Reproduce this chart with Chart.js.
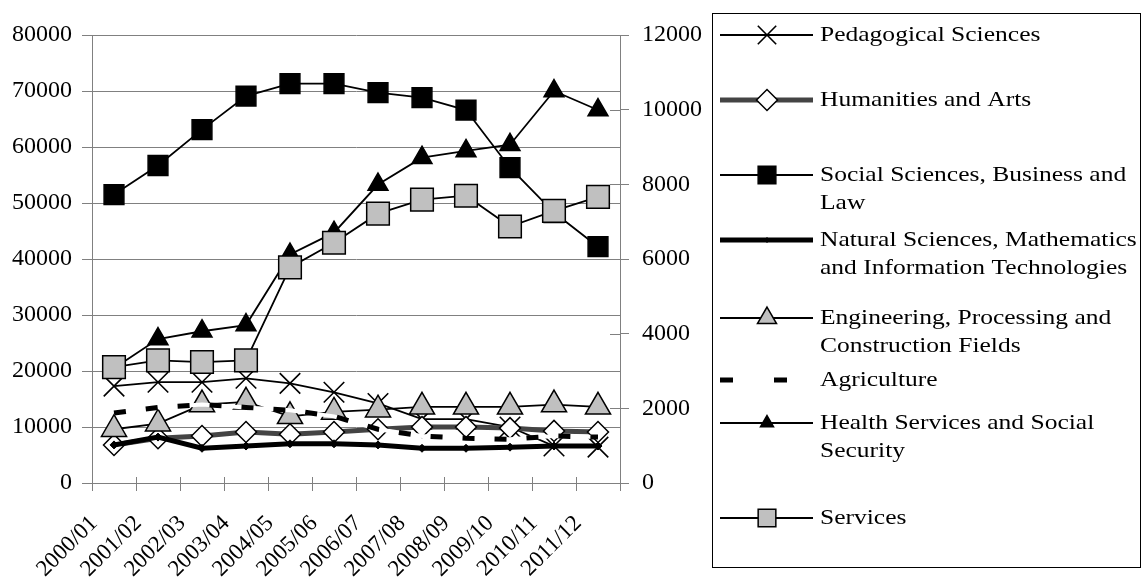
<!DOCTYPE html>
<html>
<head>
<meta charset="utf-8">
<script src="https://cdn.jsdelivr.net/npm/chart.js@4.4.1/dist/chart.umd.min.js"></script>
<style>
html,body{margin:0;padding:0;background:#fff;}
#wrap{width:1143px;height:579px;position:relative;}
</style>
</head>
<body>
<div id="wrap"><canvas id="c" width="1143" height="579"></canvas></div>
<script>
// ---------- DATA ----------
const categories = ['2000/01','2001/02','2002/03','2003/04','2004/05','2005/06','2006/07','2007/08','2008/09','2009/10','2010/11','2011/12'];

const pedagogical = [17300, 18000, 18000, 18700, 17800, 16200, 14200, 11400, 11400, 10000, 6600, 6400];
const humanities  = [6800, 8000, 8400, 9100, 8700, 9100, 9600, 10000, 10000, 9800, 9300, 9100];
const social      = [51500, 56700, 63100, 69100, 71300, 71300, 69700, 68800, 66600, 56300, 48300, 42200];
const natural     = [6800, 8200, 6200, 6600, 7000, 7000, 6800, 6200, 6200, 6400, 6600, 6600];
const engineering = [9600, 10600, 14000, 14500, 11900, 12700, 13100, 13600, 13600, 13600, 14000, 13600];
const agriculture = [12500, 13500, 14000, 13500, 13000, 11900, 9600, 8400, 8000, 7800, 8400, 8200];
const health      = [20500, 25700, 27100, 28200, 40800, 44700, 53300, 58100, 59300, 60400, 70000, 66600];
const services    = [20700, 21900, 21600, 21900, 38500, 42900, 48100, 50600, 51300, 45800, 48600, 51100];

const seriesNames = [
  ['Pedagogical Sciences'],
  ['Humanities and Arts'],
  ['Social Sciences, Business and', 'Law'],
  ['Natural Sciences, Mathematics', 'and Information Technologies'],
  ['Engineering, Processing and', 'Construction Fields'],
  ['Agriculture'],
  ['Health Services and Social', 'Security'],
  ['Services']
];

const leftAxisMax = 80000, leftAxisStep = 10000;
const rightAxisMax = 12000, rightAxisStep = 2000;

// ---------- STYLES ----------
const FONT = '"Liberation Serif", "Times New Roman", Times, serif';
const legendY = [35, 100, 175, 240, 318, 380, 423, 518];

function ds(i, data, style) {
  return Object.assign({
    label: seriesNames[i].join(' '),
    legendLines: seriesNames[i],
    legendY: legendY[i],
    data: data,
    yAxisID: 'y',
    order: 20 - i * 2,
    tension: 0,
    fill: false,
    borderColor: '#000',
    borderWidth: 1.8,
    pointBorderColor: '#000',
    pointBorderWidth: 1.5,
    pointHoverRadius: 0
  }, style);
}

const datasets = [
  ds(0, pedagogical, {pointStyle: 'crossRot', pointRadius: 14.5, legendRadius: 13, pointBackgroundColor: '#000', pointBorderWidth: 1.6}),
  ds(1, humanities, {borderColor: '#444', borderWidth: 5, pointStyle: 'rectRot', pointRadius: 10.5, legendRadius: 10.5, pointBackgroundColor: '#fff', pointBorderWidth: 1.5}),
  ds(2, social, {pointStyle: 'rect', pointRadius: 14, legendRadius: 12.5, pointBackgroundColor: '#000'}),
  ds(3, natural, {borderWidth: 5, pointStyle: 'rectRot', pointRadius: 4, legendRadius: 2.5, pointBackgroundColor: '#000', pointBorderWidth: 1}),
  ds(4, engineering, {pointStyle: 'triangle', pointRadius: 14.5, legendRadius: 11, pointBackgroundColor: '#c0c0c0'}),
  ds(5, agriculture, {borderWidth: 5, borderDash: [12, 20], legendDash: [13, 41], pointRadius: 0, pointStyle: false}),
  ds(6, health, {pointStyle: 'triangle', pointRadius: 11.5, legendRadius: 7.5, pointBackgroundColor: '#000'}),
  ds(7, services, {pointStyle: 'rect', pointRadius: 16, legendRadius: 12.5, pointBackgroundColor: '#c0c0c0'})
];
// white under-stroke of the dashed Agriculture line (gaps are white, not transparent)
datasets.push({
  label: 'agri-under', data: agriculture, yAxisID: 'y', order: 20 - 5 * 2 + 1,
  borderColor: '#ffffff', borderWidth: 4, pointRadius: 0, pointHoverRadius: 0, tension: 0, fill: false
});

const GRID = '#808080';

// ---------- INNER TICK MARKS (ticks cross the axes) ----------
const crossTicks = {
  id: 'crossTicks',
  afterDraw(chart) {
    const ctx = chart.ctx, a = chart.chartArea;
    const sx = chart.scales.x, sy = chart.scales.y, sy2 = chart.scales.y2;
    ctx.save();
    ctx.strokeStyle = GRID;
    ctx.lineWidth = 1;
    ctx.beginPath();
    sy.ticks.forEach(t => {
      const p = Math.round(sy.getPixelForValue(t.value)) + 0.5;
      ctx.moveTo(a.left, p); ctx.lineTo(a.left + 8, p);
    });
    sy2.ticks.forEach(t => {
      const p = Math.round(sy2.getPixelForValue(t.value)) + 0.5;
      ctx.moveTo(a.right - 10, p); ctx.lineTo(a.right, p);
    });
    const n = sx.ticks.length;
    for (let i = 0; i <= n; i++) {
      const p = Math.round(sx.getPixelForTick(0) - sx.width / n / 2 + i * sx.width / n) + 0.5;
      ctx.moveTo(p, a.bottom - 6); ctx.lineTo(p, a.bottom);
    }
    ctx.stroke();
    ctx.restore();
  }
};

// ---------- LEGEND PLUGIN ----------
const boxLegend = {
  id: 'boxLegend',
  afterDraw(chart) {
    const ctx = chart.ctx;
    ctx.save();
    ctx.strokeStyle = '#000';
    ctx.lineWidth = 1;
    ctx.setLineDash([]);
    ctx.strokeRect(712.5, 13.5, 428, 554);
    chart.data.datasets.forEach(d => {
      if (!d.legendLines) return;
      const y = d.legendY;
      ctx.save();
      ctx.strokeStyle = d.borderColor;
      ctx.lineWidth = d.borderWidth;
      ctx.lineCap = 'butt';
      ctx.setLineDash(d.legendDash || d.borderDash || []);
      ctx.beginPath();
      ctx.moveTo(720, y);
      ctx.lineTo(813, y);
      ctx.stroke();
      ctx.setLineDash([]);
      if (d.pointStyle && d.pointRadius > 0) {
        ctx.fillStyle = d.pointBackgroundColor;
        ctx.strokeStyle = d.pointBorderColor;
        ctx.lineWidth = d.pointBorderWidth;
        Chart.helpers.drawPoint(ctx, {pointStyle: d.pointStyle, radius: d.legendRadius, rotation: 0, borderWidth: d.pointBorderWidth}, 767, y);
      }
      ctx.restore();
      ctx.fillStyle = '#000';
      ctx.font = '22px ' + FONT;
      ctx.textBaseline = 'middle';
      ctx.textAlign = 'left';
      d.legendLines.forEach((t, k) => {
        ctx.save();
        ctx.translate(820, y + k * 28);
        ctx.scale(1.16, 1);
        ctx.fillText(t, 0, 0);
        ctx.restore();
      });
    });
    ctx.restore();
  }
};

// ---------- CHART ----------
function build() {
  new Chart(document.getElementById('c'), {
    type: 'line',
    data: { labels: categories, datasets: datasets },
    plugins: [crossTicks, boxLegend],
    options: {
      responsive: false,
      devicePixelRatio: 1,
      animation: false,
      layout: { padding: { left: 0, top: 35, right: 423, bottom: 0 } },
      plugins: { legend: { display: false }, tooltip: { enabled: false } },
      elements: { line: { borderCapStyle: 'butt', borderJoinStyle: 'miter' } },
      scales: {
        x: {
          type: 'category',
          offset: true,
          grid: { display: true, offset: true, drawOnChartArea: false, drawTicks: true, tickLength: 8, color: GRID, lineWidth: 1 },
          border: { display: true, color: GRID, width: 1 },
          ticks: { autoSkip: false, maxRotation: 45, minRotation: 45, padding: 19, labelOffset: -20, color: '#000', font: { family: FONT, size: 23 } },
          afterFit: s => { s.height = 96; }
        },
        y: {
          position: 'left',
          min: 0, max: leftAxisMax,
          grid: { color: GRID, lineWidth: 1, drawTicks: true, tickLength: 10 },
          border: { display: true, color: GRID, width: 1 },
          ticks: { stepSize: leftAxisStep, padding: 10, color: '#000', font: { family: FONT, size: 24 }, callback: v => String(v) },
          afterFit: s => { s.width = 92; }
        },
        y2: {
          position: 'right',
          min: 0, max: rightAxisMax,
          grid: { drawOnChartArea: false, color: GRID, lineWidth: 1, drawTicks: true, tickLength: 9 },
          border: { display: true, color: GRID, width: 1 },
          ticks: { stepSize: rightAxisStep, padding: 13, color: '#000', font: { family: FONT, size: 24 }, callback: v => String(v) },
          afterFit: s => { s.width = 100; }
        }
      }
    }
  });
}
let built = false;
function go() { if (!built) { built = true; build(); } }
if (document.fonts && document.fonts.load) {
  Promise.all([
    document.fonts.load('24px "Liberation Serif"'),
    document.fonts.load('22px "Liberation Serif"'),
    document.fonts.load('23px "Liberation Serif"')
  ]).then(go, go);
  setTimeout(go, 1500);
} else {
  go();
}
</script>
</body>
</html>
